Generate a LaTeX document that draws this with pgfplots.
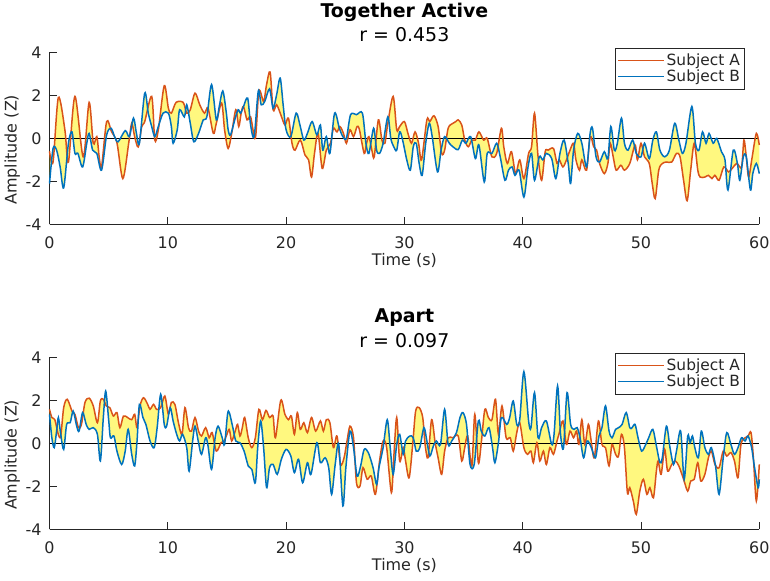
\documentclass[border=0pt]{standalone}
\usepackage{pgfplots}
\pgfplotsset{compat=1.18}
\usepackage{pgfplotstable}
\usepgfplotslibrary{fillbetween}
\usepackage{fontspec}
\setmainfont{DejaVu Sans}
\definecolor{mA}{RGB}{217,83,25}
\definecolor{mB}{RGB}{0,114,189}
\definecolor{axgray}{RGB}{38,38,38}

\pgfplotstableread{
t v
0 -0.6
0.3 -1.1
0.75 1.9
1.3 0.4
1.6 -1.1
2.15 1.95
2.85 -0.86
3.35 1.67
3.7 -0.23
4.0 0.08
4.2 -0.86
4.4 -1.33
4.83 0.78
5.25 0.3
5.7 -0.2
6.2 -1.87
6.7 -0.2
6.95 0.7
7.2 0.08
7.5 -0.4
7.8 0.55
8.05 0.78
8.64 1.95
8.9 -0.08
9.2 0.4
9.7 2.45
10.05 1.4
10.3 1.17
10.7 1.67
11.3 1.67
11.6 1.17
11.9 1.33
12.3 2.1
12.7 1.56
13.1 1.17
13.4 1.4
13.85 0.23
14.1 0.7
14.55 1.64
14.8 0.4
15.1 -0.47
15.4 0.23
15.75 1.33
16.0 0.55
16.2 1.17
16.4 1.48
16.7 0.86
17.0 1.0
17.4 0.0
17.7 2.2
18.1 1.72
18.35 2.5
18.65 3.08
18.9 1.33
19.2 1.56
19.55 1.1
19.9 0.62
20.2 0.94
20.5 -0.23
20.75 -0.55
21.2 -0.08
21.6 -0.78
21.9 -1.0
22.15 -1.8
22.4 -0.7
22.7 0.23
23.05 -1.4
23.4 -0.55
23.75 -0.23
24.0 0.47
24.3 0.3
24.55 0.55
24.85 0.23
25.1 -0.23
25.4 0.4
25.7 0.08
26.0 0.55
26.2 0.4
26.6 -0.7
26.8 -0.23
27.0 0.08
27.25 -0.55
27.45 -0.86
27.8 0.86
28.1 -0.08
28.35 -0.23
28.6 0.7
29.05 1.95
29.35 0.4
29.6 0.55
30.0 0.78
30.3 0.23
30.6 -0.23
30.9 0.3
31.2 -0.23
31.45 -1.0
31.9 0.86
32.15 0.78
32.5 1.05
32.85 0.55
33.15 -0.7
33.4 -0.55
33.7 0.47
34.1 0.7
34.35 0.78
34.55 0.86
34.85 0.62
35.1 -0.08
35.4 -0.39
35.7 -0.08
36.0 -0.08
36.3 0.3
36.7 -0.08
37.0 0.0
37.4 -0.86
37.8 -0.7
38.2 0.47
38.4 -0.39
38.7 -1.17
39.05 -0.62
39.4 -1.64
39.75 -1.0
40.1 -1.87
40.5 -0.7
40.75 -0.39
41.0 1.17
41.3 -0.86
41.6 -1.95
41.9 -0.62
42.15 -0.55
42.6 -0.47
42.9 -1.17
43.1 -1.0
43.4 -1.33
43.7 -1.0
44.0 -0.55
44.3 -0.23
44.5 -1.0
44.8 -1.48
45.0 -1.0
45.4 -1.48
45.7 0.08
46.0 -0.39
46.25 -0.55
46.5 -1.17
46.9 -1.64
47.2 -1.17
47.4 -0.23
47.65 -0.86
47.9 -1.48
48.3 -1.25
48.6 -1.48
49.05 -1.17
49.5 -0.31
49.7 -1.0
50.0 -0.23
50.3 -0.86
50.7 -1.17
50.95 -2.1
51.2 -2.8
51.5 -1.48
51.8 -1.17
52.15 -1.1
52.6 -1.1
53.0 -0.7
53.3 -0.86
53.6 -1.95
53.9 -2.9
54.2 -1.48
54.5 -0.23
54.8 -1.48
55.0 -1.8
55.4 -1.8
55.7 -1.72
56.0 -1.87
56.25 -1.72
56.6 -1.95
57.0 -1.33
57.4 -1.56
57.7 -1.4
58.1 -1.17
58.5 -1.33
58.7 -0.08
58.9 -0.86
59.1 -1.8
59.4 -0.86
59.75 0.23
60.0 -0.31
}\topA

\pgfplotstableread{
t v
0 -2.1
0.3 -0.47
0.6 -0.55
0.9 -1.33
1.2 -2.3
1.6 -0.23
1.9 0.3
2.15 -0.7
2.4 -0.7
2.8 -1.33
3.15 -0.23
3.35 0.23
3.65 -0.55
4.0 -0.7
4.4 -1.48
4.83 0.16
5.2 0.47
5.5 0.08
5.8 -0.16
6.4 0.36
6.75 0.08
7.1 0.94
7.35 0.23
7.6 -0.23
8.05 2.1
8.35 1.17
8.64 0.55
8.9 0.08
9.2 0.55
9.6 1.17
10.05 1.17
10.3 0.55
10.45 -0.23
10.8 0.4
11.0 1.33
11.4 1.0
11.6 1.56
11.9 0.7
12.2 -0.16
12.6 0.23
13.0 0.86
13.3 1.0
13.7 2.5
14.1 0.86
14.35 1.48
14.65 2.2
14.95 1.17
15.1 0.4
15.3 0.16
15.7 0.94
15.95 1.33
16.15 1.17
16.4 1.48
16.75 1.87
17.0 0.62
17.3 0.08
17.65 2.2
17.9 1.56
18.2 1.72
18.6 2.3
18.9 1.4
19.2 2.03
19.5 2.8
19.75 1.56
20.0 0.4
20.4 0.08
20.85 1.17
21.2 0.55
21.5 -0.08
21.8 0.23
22.2 0.78
22.6 0.16
22.9 0.62
23.1 -0.55
23.4 0.08
23.7 -0.7
24.1 1.17
24.5 0.47
24.8 0.08
25.1 0.0
25.45 1.1
25.95 1.1
26.45 1.17
26.75 -0.23
27.0 -0.7
27.4 0.47
27.65 -0.55
27.9 -0.7
28.2 -0.23
28.6 1.0
28.85 0.0
29.1 -0.39
29.35 -0.55
29.6 0.3
29.85 -0.08
30.2 -1.0
30.5 -1.48
30.75 -0.39
31.0 -0.23
31.25 -1.17
31.5 -1.72
31.8 -0.23
32.1 0.7
32.35 0.08
32.8 -1.56
33.1 -0.55
33.4 0.08
33.8 -0.23
34.1 -0.39
34.55 -0.52
34.9 -0.08
35.2 -0.23
35.6 0.08
36.0 -0.94
36.3 -0.31
36.75 -2.03
37.0 -0.7
37.4 -0.7
37.8 -0.23
38.1 -0.86
38.5 -1.95
38.8 -1.48
39.1 -1.33
39.35 -1.72
39.7 -1.48
40.1 -2.73
40.45 -1.33
40.75 -0.7
41.0 -1.95
41.4 -0.86
41.7 -1.0
42.0 -0.7
42.45 -0.94
42.8 -1.87
43.15 -0.7
43.5 -0.08
43.85 -1.17
44.05 -2.1
44.3 -0.55
44.65 0.23
45.0 -0.23
45.4 -1.33
45.7 0.23
45.9 0.47
46.2 -0.86
46.5 -1.1
46.9 -0.62
47.2 -0.94
47.45 0.55
47.75 -0.55
48.0 -0.23
48.35 0.94
48.6 -0.23
48.9 -0.55
49.3 -0.08
49.6 -0.7
50.0 -0.86
50.3 -0.23
50.7 -0.94
51.0 -0.08
51.3 0.3
51.6 -0.55
52.0 -0.86
52.4 -0.55
52.85 0.7
53.2 -0.08
53.5 -0.7
53.8 -0.23
54.3 1.48
54.6 -0.23
54.9 -0.55
55.2 0.3
55.5 -0.23
55.75 0.23
56.1 -0.23
56.4 0.0
56.8 -0.62
57.1 -1.0
57.35 -2.4
57.8 -0.55
58.15 -1.17
58.35 -1.95
58.65 -0.86
58.9 -0.86
59.25 -2.4
59.45 -1.64
59.75 -1.17
60.0 -1.64
}\topB

\pgfplotstableread{
t v
0 1.58
0.2 1.2
0.45 1.1
0.75 0.4
0.95 0.34
1.2 1.66
1.5 2.05
1.9 1.5
2.15 1.35
2.45 0.73
2.7 0.88
3.0 1.9
3.35 2.1
3.7 1.74
4.05 0.96
4.3 1.97
4.55 2.05
4.8 1.74
5.1 1.66
5.4 1.27
5.7 1.43
5.95 0.73
6.25 1.27
6.6 1.2
6.95 1.1
7.2 1.35
7.4 0.73
7.65 1.74
7.95 2.12
8.3 1.81
8.5 1.58
8.8 1.81
9.05 1.58
9.4 1.66
9.75 2.2
10.05 1.35
10.3 1.9
10.6 1.81
10.9 0.96
11.2 0.42
11.45 1.66
11.75 0.73
12.0 0.57
12.3 1.2
12.6 0.57
12.85 0.34
13.2 0.73
13.5 0.26
13.75 0.5
14.1 -0.36
14.5 0.03
14.75 0.1
15.0 0.42
15.2 0.65
15.4 0.11
15.7 0.57
15.9 0.88
16.1 0.34
16.3 0.73
16.5 1.2
16.8 0.26
17.1 -0.2
17.4 0.26
17.7 1.58
18.0 1.1
18.3 1.53
18.6 1.2
18.9 1.27
19.1 0.26
19.55 2.0
19.9 1.35
20.2 1.1
20.45 1.27
20.7 0.42
20.95 1.43
21.2 0.65
21.5 0.96
21.8 0.5
22.15 1.2
22.5 0.57
22.9 1.04
23.15 0.57
23.4 1.1
23.7 0.96
24.0 -0.2
24.3 0.34
24.6 -0.98
24.9 -0.67
25.15 0.11
25.4 0.8
25.7 0.26
25.95 -1.83
26.25 -1.98
26.5 -1.13
26.85 -1.67
27.2 -1.52
27.55 -2.37
27.9 -0.82
28.2 0.11
28.5 -0.2
28.9 -2.29
29.1 -0.67
29.35 1.2
29.6 -0.82
29.9 -0.2
30.1 -0.82
30.4 -1.6
30.7 -0.05
30.95 1.5
31.25 1.66
31.55 1.2
31.75 -0.05
32.0 -0.67
32.3 1.1
32.6 0.03
32.85 -0.67
33.15 -1.44
33.4 -0.36
33.7 0.26
34.1 0.26
34.55 0.34
34.85 -0.82
35.1 -0.2
35.35 0.34
35.7 -1.05
35.95 1.35
36.25 -0.9
36.5 0.03
36.8 1.58
37.1 1.2
37.4 1.1
37.7 2.05
37.95 0.42
38.25 1.74
38.6 0.26
38.95 0.26
39.2 -0.36
39.5 0.5
39.75 0.96
40.1 -0.2
40.4 -0.51
40.7 -0.36
40.9 -0.9
41.2 0.03
41.45 -0.82
41.75 -0.36
42.0 -0.98
42.3 -0.2
42.6 -0.51
42.9 0.11
43.1 0.5
43.4 1.04
43.7 -0.05
44.0 0.57
44.3 0.26
44.55 0.57
44.75 -0.05
45.0 1.1
45.25 -0.05
45.55 0.88
45.75 0.26
46.05 -0.67
46.4 1.04
46.7 -0.05
47.0 -0.2
47.3 -1.05
47.55 -0.05
47.85 -0.51
48.1 -0.59
48.35 0.42
48.6 -0.2
48.85 -2.29
49.05 -2.06
49.35 -2.68
49.6 -3.3
49.9 -2.22
50.2 -1.67
50.5 -2.37
50.75 -2.06
51.05 -2.53
51.3 -1.29
51.45 -0.82
51.7 -1.44
52.0 -0.28
52.25 -1.29
52.6 -0.98
52.9 -0.82
53.2 -1.05
53.6 -1.67
53.95 -2.22
54.2 -1.75
54.5 -1.67
54.8 -0.9
55.05 -1.75
55.4 -1.44
55.7 -0.67
55.95 -0.36
56.25 -0.98
56.6 -1.13
56.95 -0.36
57.25 -0.59
57.6 -0.43
57.9 -0.82
58.2 -1.6
58.45 -0.05
58.8 0.26
59.05 0.34
59.3 0.5
59.5 -0.67
59.75 -2.68
60.0 -0.98
}\botA

\pgfplotstableread{
t v
0 1.35
0.2 0.26
0.4 -0.2
0.6 0.57
0.75 1.2
0.95 0.42
1.2 -0.28
1.45 0.88
1.75 0.96
2.0 1.5
2.3 0.8
2.5 0.57
2.8 1.43
3.1 0.88
3.35 0.65
3.7 0.73
4.05 0.42
4.3 -0.82
4.55 1.2
4.75 2.43
5.0 1.1
5.15 0.26
5.45 0.34
5.7 -0.36
6.1 -0.98
6.4 -0.36
6.65 0.65
6.95 -0.51
7.2 -1.05
7.4 0.11
7.6 1.81
7.9 1.2
8.15 0.88
8.5 0.11
8.85 -0.2
9.1 0.73
9.4 2.28
9.7 0.88
9.9 0.8
10.2 1.66
10.45 1.04
10.75 0.42
11.0 0.11
11.25 0.42
11.6 -0.2
11.8 -1.29
12.1 0.11
12.3 0.8
12.6 0.03
12.85 -0.51
13.2 0.26
13.4 -0.12
13.7 -1.21
14.0 0.26
14.25 0.8
14.6 0.26
14.8 -0.05
15.05 1.35
15.2 1.43
15.5 0.73
15.75 0.11
16.1 0.03
16.45 -0.36
16.8 -1.05
17.1 -1.21
17.4 -1.83
17.6 -0.2
17.85 1.04
18.1 -0.2
18.35 -2.06
18.6 -1.13
18.9 -0.98
19.25 -1.44
19.6 -0.74
20.0 -0.28
20.4 -0.59
20.7 -1.36
21.05 -0.74
21.4 -1.83
21.8 -0.9
22.1 -1.44
22.6 0.03
22.9 -0.9
23.3 -0.67
23.6 -1.13
23.85 -2.37
24.15 -0.98
24.45 -0.05
24.8 -2.91
25.05 -1.13
25.4 0.57
25.7 -0.2
26.0 -1.52
26.3 -1.05
26.6 -0.28
26.95 -0.43
27.35 -1.13
27.65 -1.91
27.85 -1.13
28.2 -0.2
28.55 1.1
28.8 -0.2
29.05 -1.44
29.35 -0.05
29.6 0.42
29.9 -0.51
30.1 0.11
30.45 0.34
30.75 0.26
31.0 -0.36
31.3 -0.2
31.65 0.73
31.9 0.11
32.15 -0.59
32.45 -0.12
32.7 0.11
33.05 -0.05
33.4 1.58
33.7 -0.05
34.0 0.11
34.4 0.5
34.7 1.2
34.95 1.43
35.25 0.88
35.55 -0.98
35.9 -0.98
36.25 1.04
36.5 0.57
36.8 0.34
37.15 0.73
37.45 -0.2
37.65 -0.9
37.95 0.03
38.2 1.2
38.65 0.88
38.9 1.2
39.2 1.97
39.5 0.88
39.75 1.1
40.1 3.33
40.5 1.04
40.7 0.73
41.0 2.36
41.3 0.26
41.6 0.73
42.0 1.04
42.45 -0.05
42.65 0.42
42.95 2.67
43.2 0.42
43.45 -0.2
43.75 2.36
44.05 0.88
44.35 0.65
44.6 0.73
44.85 0.26
45.15 -0.67
45.45 0.11
45.8 -0.2
46.15 -0.67
46.45 0.34
46.7 0.73
47.0 1.74
47.3 0.57
47.55 0.26
47.85 0.65
48.1 0.73
48.4 0.88
48.75 1.43
49.05 0.73
49.25 0.73
49.5 0.88
49.75 0.26
50.05 -0.36
50.4 -0.05
50.65 0.26
51.0 0.65
51.3 -0.12
51.6 -0.9
51.8 -0.67
52.15 0.8
52.45 -0.2
52.75 -0.98
53.0 -0.36
53.35 0.57
53.65 -1.67
53.95 0.34
54.15 0.03
54.35 0.34
54.55 -0.2
54.85 -0.67
55.1 0.57
55.4 -0.2
55.7 -0.51
55.95 -0.2
56.3 -1.05
56.6 -2.37
56.95 -0.67
57.25 0.5
57.6 -0.05
57.9 -0.51
58.2 -0.2
58.5 0.26
58.8 0.11
59.05 0.34
59.35 -0.2
59.6 -1.13
59.9 -2.06
60.0 -1.67
}\botB

\pgfplotsset{
  myaxis/.style={
    scale only axis, width=709.8bp, height=172.1bp,
    xmin=0, xmax=60, ymin=-4, ymax=4,
    xtick={0,10,20,30,40,50,60},
    ytick={-4,-2,0,2,4},
    yticklabels={-4,-2,0,2,4},
    axis x line*=bottom, axis y line*=left,
    axis line style={axgray, line width=1bp, -},
    tick style={axgray, line width=1bp},
    major tick length=7bp,
    tick align=inside,
    /pgf/number format/assume math mode=true,
    ticklabel style={font=\fontsize{16}{19}\selectfont, text=axgray, inner sep=0pt},
    xticklabel style={anchor=base, yshift=-24.1bp},
    yticklabel style={anchor=east, xshift=-7.8bp},
    clip=false,
    legend cell align=left,
    legend image code/.code={\draw[#1, line width=1.5bp] (0bp,0bp) -- (46bp,0bp);},
    legend style={at={(0.979,1.027)}, anchor=north east, draw=axgray, line width=0.8bp,
      fill=white, font=\fontsize{15.5}{18}\selectfont, inner xsep=2.5bp, inner ysep=4bp,
      nodes={inner sep=1.6bp, text=axgray}},
  },
  lineA/.style={mA, line width=1.5bp, smooth},
  lineB/.style={mB, line width=1.5bp, smooth},
}

\begin{document}
\begin{tikzpicture}
\begin{axis}[myaxis, name=top, at={(49.5bp,356.3bp)}, anchor=south west]
\addplot[black, line width=1.2bp, forget plot] coordinates {(0,0) (60,0)};
\addplot[draw=none, smooth, name path=A1, forget plot] table[x=t,y=v] {\topA};
\addplot[draw=none, smooth, name path=B1, forget plot] table[x=t,y=v] {\topB};
\addplot[fill=yellow, fill opacity=0.5, draw=none, forget plot] fill between[of=A1 and B1];
\addplot[lineA] table[x=t,y=v] {\topA};
\addlegendentry{Subject A}
\addplot[lineB] table[x=t,y=v] {\topB};
\addlegendentry{Subject B}
\end{axis}
\node[anchor=base, font=\fontsize{19}{23}\selectfont\bfseries, text=black] at ([yshift=34.6bp]top.north) {Together Active};
\node[anchor=base, font=\fontsize{19}{23}\selectfont, text=black] at ([yshift=10.3bp]top.north) {r = 0.453};
\node[anchor=base, font=\fontsize{16}{19}\selectfont, text=axgray] at ([yshift=-41.5bp]top.south) {Time (s)};
\node[anchor=base, rotate=90, font=\fontsize{16}{19}\selectfont, text=axgray] at ([xshift=-32.8bp,yshift=-11.5bp]top.west) {Amplitude (Z)};

\begin{axis}[myaxis, name=bot, at={(49.5bp,51.3bp)}, anchor=south west]
\addplot[black, line width=1.2bp, forget plot] coordinates {(0,0) (60,0)};
\addplot[draw=none, smooth, name path=A2, forget plot] table[x=t,y=v] {\botA};
\addplot[draw=none, smooth, name path=B2, forget plot] table[x=t,y=v] {\botB};
\addplot[fill=yellow, fill opacity=0.5, draw=none, forget plot] fill between[of=A2 and B2];
\addplot[lineA] table[x=t,y=v] {\botA};
\addlegendentry{Subject A}
\addplot[lineB] table[x=t,y=v] {\botB};
\addlegendentry{Subject B}
\end{axis}
\node[anchor=base, font=\fontsize{19}{23}\selectfont\bfseries, text=black] at ([yshift=34.6bp]bot.north) {Apart};
\node[anchor=base, font=\fontsize{19}{23}\selectfont, text=black] at ([yshift=10.3bp]bot.north) {r = 0.097};
\node[anchor=base, font=\fontsize{16}{19}\selectfont, text=axgray] at ([yshift=-41.5bp]bot.south) {Time (s)};
\node[anchor=base, rotate=90, font=\fontsize{16}{19}\selectfont, text=axgray] at ([xshift=-32.8bp,yshift=-11.5bp]bot.west) {Amplitude (Z)};
\path (0,0) rectangle (770bp,578bp);
\end{tikzpicture}
\end{document}
